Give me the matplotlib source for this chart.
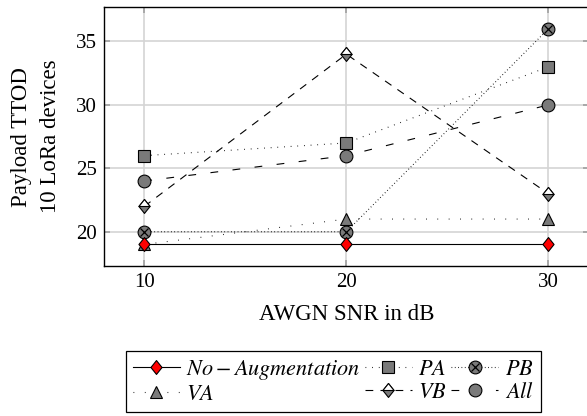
import matplotlib
matplotlib.use("Agg")
import matplotlib.pyplot as plt
from matplotlib.legend_handler import HandlerTuple
from matplotlib.path import Path

plt.rcParams.update({
    "font.family": "Liberation Serif",
    "mathtext.fontset": "stix",
    "font.size": 15,
})

snr = [10, 20, 30]
no_aug = [19, 19, 19]
pa = [26, 27, 33]
pb = [20, 20, 36]
va = [19, 21, 21]
vb = [22, 34, 23]
all_aug = [24, 26, 30]

GREY = "#7a7a7a"
LW = 0.8

# pgfplots-like diamond (a bit taller than wide) and its upper half
DIAMOND = Path([(0, 1), (0.8, 0), (0, -1), (-0.8, 0), (0, 1)], closed=True)
TOP_HALF = Path([(0, 1), (0.8, 0), (-0.8, 0), (0, 1)], closed=True)

fig = plt.figure(figsize=(5.87, 4.16), dpi=100)
ax = fig.add_axes([0.177, 0.3606, 0.826, 0.622])

mk = dict(markeredgecolor="black", markeredgewidth=0.8)

h_no, = ax.plot(snr, no_aug, color="black", lw=LW, marker=DIAMOND, ms=10,
                markerfacecolor="red", zorder=5, **mk)
h_pa, = ax.plot(snr, pa, color="black", lw=LW, ls=(0, (0.7, 5.3)), marker="s",
                ms=9, markerfacecolor=GREY, zorder=4, **mk)
h_pb, = ax.plot(snr, pb, color="black", lw=LW, ls=(0, (0.7, 2.3)), marker="o",
                ms=9.2, markerfacecolor=GREY, zorder=4, **mk)
h_pbx, = ax.plot(snr, pb, ls="none", marker="x", ms=6.3, color="black",
                 markeredgewidth=0.9, zorder=6)
h_va, = ax.plot(snr, va, color="black", lw=LW, ls=(0, (0.7, 9.5)), marker="^",
                ms=8.6, markerfacecolor=GREY, zorder=4, **mk)
h_vb, = ax.plot(snr, vb, color="black", lw=LW, ls=(0, (7, 6.5)), marker=DIAMOND,
                ms=10, markerfacecolor=GREY, zorder=4, **mk)
h_vbt, = ax.plot(snr, vb, ls="none", marker=TOP_HALF, ms=10,
                 markerfacecolor="white", zorder=4.5, **mk)
h_all, = ax.plot(snr, all_aug, color="black", lw=LW, ls=(0, (7, 13)), marker="o",
                 ms=9.2, markerfacecolor=GREY, zorder=4, **mk)

ax.set_xlim(8, 32)
ax.set_ylim(17.3, 37.7)
ax.set_xticks([10, 20, 30])
ax.set_yticks([20, 25, 30, 35])
ax.grid(True, color="#d4d4d4", lw=1.2)
ax.set_axisbelow(True)
ax.tick_params(direction="in", color="#a0a0a0", length=4, width=1.2,
               labelsize=15, top=True, right=True, pad=5)
for s in ax.spines.values():
    s.set_linewidth(1.0)

ax.set_xlabel("AWGN SNR in dB", fontsize=16.5, labelpad=9)
ax.set_ylabel("Payload TTOD\n10 LoRa devices", fontsize=16.5, labelpad=11,
              linespacing=1.5)

handles = [h_no, h_va, h_pa, (h_vb, h_vbt), (h_pb, h_pbx), h_all]
labels = [r"$No-Augmentation$", r"$VA$", r"$PA$", r"$VB$", r"$PB$", r"$All$"]
leg = fig.legend(handles, labels, ncol=3, loc="center",
                 bbox_to_anchor=(0.568, 0.083),
                 fontsize=16, frameon=True, fancybox=False, framealpha=1,
                 edgecolor="black", handlelength=2.1, handletextpad=0.3,
                 columnspacing=0.2, borderpad=0.3, labelspacing=0.1,
                 borderaxespad=0,
                 handler_map={tuple: HandlerTuple(ndivide=1, pad=0)})
leg.get_frame().set_linewidth(0.9)

fig.savefig("out.png", dpi=100)
